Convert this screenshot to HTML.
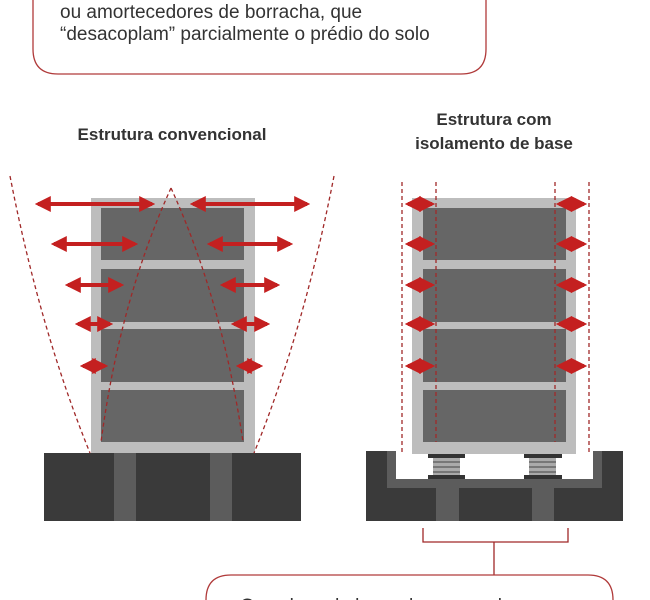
<!DOCTYPE html>
<html><head><meta charset="utf-8"><style>
html,body{margin:0;padding:0;background:#fff;width:650px;height:600px;overflow:hidden}
svg{display:block}
text{font-family:"Liberation Sans",sans-serif}
</style></head><body>
<svg width="650" height="600" viewBox="0 0 650 600" xmlns="http://www.w3.org/2000/svg">
<defs>
<marker id="ah" viewBox="0 0 10 10" refX="8" refY="5" markerWidth="4" markerHeight="4" orient="auto-start-reverse">
<path d="M0,0 L10,5 L0,10 z" fill="#c42020"/></marker>
</defs>
<path d="M33,-10 L33,49 Q33,74 58,74 L461,74 Q486,74 486,49 L486,-10" fill="none" stroke="#b03a3a" stroke-width="1.3"/>
<text x="60" y="18" font-size="19" fill="#333">ou amortecedores de borracha, que</text>
<text x="60" y="40" font-size="19" fill="#333">“desacoplam” parcialmente o prédio do solo</text>
<text x="172" y="140" font-size="17" font-weight="bold" fill="#333" text-anchor="middle">Estrutura convencional</text>
<text x="494" y="125" font-size="17" font-weight="bold" fill="#333" text-anchor="middle">Estrutura com</text>
<text x="494" y="149" font-size="17" font-weight="bold" fill="#333" text-anchor="middle">isolamento de base</text>
<rect x="44" y="453" width="257" height="68" fill="#3a3a3a"/>
<rect x="114" y="453" width="22" height="68" fill="#5c5c5c"/>
<rect x="210" y="453" width="22" height="68" fill="#5c5c5c"/>
<rect x="91" y="198" width="164" height="255" fill="#bdbdbd"/>
<rect x="101" y="208" width="143" height="52" fill="#666"/>
<rect x="101" y="269" width="143" height="53" fill="#666"/>
<rect x="101" y="329" width="143" height="53" fill="#666"/>
<rect x="101" y="390" width="143" height="52" fill="#666"/>
<g fill="none" stroke="#a02828" stroke-width="1.3" stroke-dasharray="4,3">
<path d="M10,176 Q40,330 90,453"/>
<path d="M334,176 Q304,330 254,453"/>
<path d="M171,188 Q120,300 101,442"/>
<path d="M171,188 Q222,300 243,442"/>
</g>
<g stroke="#c42020" stroke-width="4" marker-start="url(#ah)" marker-end="url(#ah)">
<line x1="38" y1="204" x2="152" y2="204"/><line x1="193" y1="204" x2="307" y2="204"/>
<line x1="54" y1="244" x2="135" y2="244"/><line x1="210" y1="244" x2="290" y2="244"/>
<line x1="68" y1="285" x2="121" y2="285"/><line x1="223" y1="285" x2="277" y2="285"/>
<line x1="78" y1="324" x2="110" y2="324"/><line x1="234" y1="324" x2="267" y2="324"/>
<line x1="83" y1="366" x2="105" y2="366"/><line x1="239" y1="366" x2="260" y2="366"/>
</g>
<rect x="366" y="451" width="257" height="70" fill="#3a3a3a"/>
<rect x="387" y="451" width="215" height="37" fill="#5c5c5c"/>
<rect x="396" y="451" width="197" height="28" fill="#fff"/>
<rect x="436" y="479" width="23" height="42" fill="#5c5c5c"/>
<rect x="532" y="479" width="22" height="42" fill="#5c5c5c"/>
<g>
<rect x="428" y="454" width="37" height="4" fill="#333"/>
<rect x="433" y="458" width="27" height="17" fill="#aaa"/>
<rect x="433" y="461" width="27" height="2" fill="#777"/>
<rect x="433" y="466" width="27" height="2" fill="#777"/>
<rect x="433" y="471" width="27" height="2" fill="#777"/>
<rect x="428" y="475" width="37" height="4" fill="#333"/>
<rect x="524" y="454" width="38" height="4" fill="#333"/>
<rect x="529" y="458" width="27" height="17" fill="#aaa"/>
<rect x="529" y="461" width="27" height="2" fill="#777"/>
<rect x="529" y="466" width="27" height="2" fill="#777"/>
<rect x="529" y="471" width="27" height="2" fill="#777"/>
<rect x="524" y="475" width="38" height="4" fill="#333"/>
</g>
<rect x="412" y="198" width="164" height="256" fill="#bdbdbd"/>
<rect x="423" y="208" width="143" height="52" fill="#666"/>
<rect x="423" y="269" width="143" height="53" fill="#666"/>
<rect x="423" y="329" width="143" height="53" fill="#666"/>
<rect x="423" y="390" width="143" height="52" fill="#666"/>
<g stroke="#a02828" stroke-width="1.3" stroke-dasharray="4,3">
<line x1="402" y1="182" x2="402" y2="454"/><line x1="436" y1="182" x2="436" y2="442"/>
<line x1="555" y1="182" x2="555" y2="442"/><line x1="589" y1="182" x2="589" y2="454"/>
</g>
<g stroke="#c42020" stroke-width="4" marker-start="url(#ah)" marker-end="url(#ah)">
<line x1="408" y1="204" x2="432" y2="204"/><line x1="559" y1="204" x2="584" y2="204"/>
<line x1="408" y1="244" x2="432" y2="244"/><line x1="559" y1="244" x2="584" y2="244"/>
<line x1="408" y1="285" x2="432" y2="285"/><line x1="559" y1="285" x2="584" y2="285"/>
<line x1="408" y1="324" x2="432" y2="324"/><line x1="559" y1="324" x2="584" y2="324"/>
<line x1="408" y1="366" x2="432" y2="366"/><line x1="559" y1="366" x2="584" y2="366"/>
</g>
<path d="M423,528 L423,542 L568,542 L568,528 M494,542 L494,575" fill="none" stroke="#a02828" stroke-width="1.3"/>
<path d="M206,610 L206,600 Q206,575 231,575 L588,575 Q613,575 613,600 L613,610" fill="none" stroke="#b03a3a" stroke-width="1.3"/>
<text x="240" y="612" font-size="19" fill="#333">Os calços de borracha e aço absorvem</text>
</svg>
</body></html>
